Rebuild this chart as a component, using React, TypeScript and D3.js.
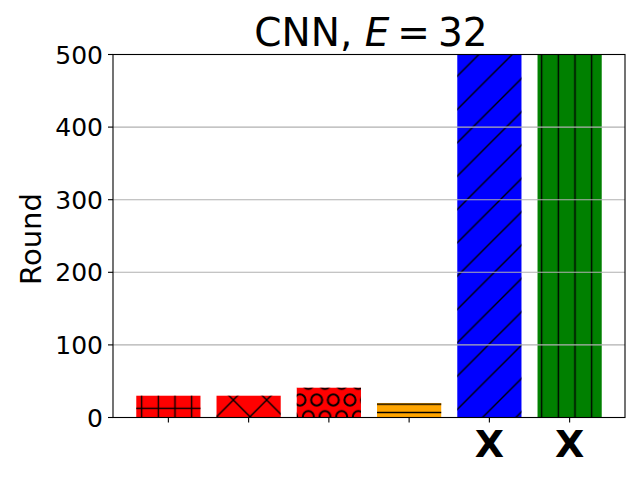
import React from "react";
import * as d3 from "d3";

const categories = ["A", "B", "C", "D", "E", "F"];
const values = [30, 30, 41, 20, 500, 500];
const barColors = ["#ff0000", "#ff0000", "#ff0000", "#ffa500", "#0000ff", "#008000"];
const hatches = ["plus", "cross", "circles", "dash2", "slash", "vbar"];
const xTickLabels = ["", "", "", "", "X", "X"];
const yTicks = [0, 100, 200, 300, 400, 500];
const gridTicks = [100, 200, 300, 400];

const W = 640, H = 480;
const L = 113, R = 625, T = 54.5, B = 417.5;
const FONT = "DejaVu Sans, sans-serif";
const HW = 1.4;

function Patterns() {
  const u = 100 / 6; // 16.667
  const d = 2 * u; // 33.333
  return (
    <defs>
      <pattern id="plus" patternUnits="userSpaceOnUse" x={0} y={0} width={u} height={u}>
        <line x1={u / 2} y1={0} x2={u / 2} y2={u} stroke="#000" strokeWidth={HW} />
        <line x1={0} y1={u / 2} x2={u} y2={u / 2} stroke="#000" strokeWidth={HW} />
      </pattern>
      <pattern id="cross" patternUnits="userSpaceOnUse" x={0} y={0} width={d} height={d}>
        {[0, d, 2 * d].map((c) => (
          <line key={"a" + c} x1={c + 5} y1={-5} x2={c - d - 5} y2={d + 5} stroke="#000" strokeWidth={HW} />
        ))}
        {[-d, 0, d].map((c) => (
          <line key={"b" + c} x1={c - 5} y1={-5} x2={c + d + 5} y2={d + 5} stroke="#000" strokeWidth={HW} />
        ))}
      </pattern>
      <pattern id="slash" patternUnits="userSpaceOnUse" x={0} y={0} width={d} height={d}>
        {[0, d, 2 * d].map((c) => (
          <line key={c} x1={c + 5} y1={-5} x2={c - d - 5} y2={d + 5} stroke="#000" strokeWidth={HW} />
        ))}
      </pattern>
      <pattern id="vbar" patternUnits="userSpaceOnUse" x={0} y={0} width={u} height={u}>
        <line x1={u / 2} y1={0} x2={u / 2} y2={u} stroke="#000" strokeWidth={HW} />
      </pattern>
      <pattern id="dash2" patternUnits="userSpaceOnUse" x={0} y={0} width={u} height={u / 2}>
        <line x1={0} y1={u / 4} x2={u} y2={u / 4} stroke="#000" strokeWidth={HW} />
      </pattern>
      <pattern id="circles" patternUnits="userSpaceOnUse" x={0} y={0} width={u} height={d}>
        {[
          [0, 0], [u, 0], [0, d], [u, d], [u / 2, u],
        ].map(([cx, cy], i) => (
          <circle key={i} cx={cx} cy={cy} r={0.35 * u * 0.95} fill="none" stroke="#000" strokeWidth={2} />
        ))}
      </pattern>
    </defs>
  );
}

export default function App() {
  const x = d3.scaleLinear().domain([-0.69, categories.length - 1 + 0.69]).range([L, R]);
  const y = d3.scaleLinear().domain([0, 500]).range([B, T]);
  const bw = x(0.8) - x(0);
  const tickFs = 25;
  return (
    <svg width={W} height={H} style={{ position: "absolute", left: 0, top: 0 }} fontFamily={FONT}>
      <Patterns />
      <rect x={0} y={0} width={W} height={H} fill="#fff" />
      {categories.map((c, i) => {
        const v = Math.min(values[i], 500);
        const x0 = x(i) - bw / 2;
        return (
          <g key={c}>
            <rect x={x0} y={y(v)} width={bw} height={y(0) - y(v)} fill={barColors[i]} />
            <rect x={x0} y={y(v)} width={bw} height={y(0) - y(v)} fill={`url(#${hatches[i]})`} />
          </g>
        );
      })}
      {gridTicks.map((t) => (
        <line key={t} x1={L} x2={R} y1={y(t)} y2={y(t)} stroke="#b0b0b0" strokeWidth={1.1} />
      ))}
      <rect x={L} y={T} width={R - L} height={B - T} fill="none" stroke="#000" strokeWidth={1.1} />
      {yTicks.map((t) => (
        <g key={t}>
          <line x1={L - 5} x2={L} y1={y(t)} y2={y(t)} stroke="#000" strokeWidth={1.1} />
          <text x={L - 10} y={y(t) + (tickFs * 0.729) / 2} fontSize={tickFs} textAnchor="end" fill="#000">
            {t}
          </text>
        </g>
      ))}
      {categories.map((c, i) => (
        <g key={"xt" + c}>
          <line x1={x(i)} x2={x(i)} y1={B} y2={B + 5} stroke="#000" strokeWidth={1.1} />
          <text x={x(i)} y={456.7} fontSize={38} fontWeight="bold" textAnchor="middle" fill="#000">
            {xTickLabels[i]}
          </text>
        </g>
      ))}
      <text transform={`translate(40.5, 239) rotate(-90)`} fontSize={29} textAnchor="middle" fill="#000">
        Round
      </text>
      <text x={(L + R) / 2 + 2} y={46} fontSize={39} textAnchor="middle" fill="#000">
        CNN,{" "}
        <tspan fontStyle="italic">E</tspan>
        <tspan dx={8}>=</tspan>
        <tspan dx={8}>32</tspan>
      </text>
    </svg>
  );
}
